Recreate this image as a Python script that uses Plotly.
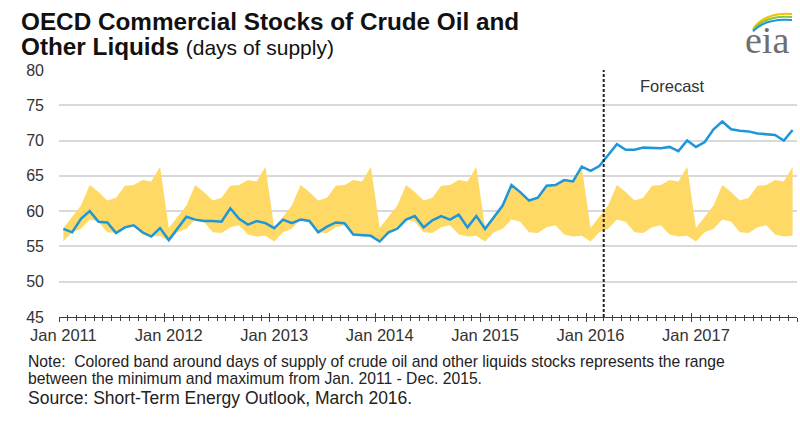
import plotly.graph_objects as go

# ---------------- data ----------------
months = [f"{y}-{m:02d}" for y in range(2011, 2018) for m in range(1, 13)]

stocks = [
    57.5, 57.0, 58.9, 60.0, 58.5, 58.4, 56.9, 57.7, 58.0, 57.0, 56.4, 57.6,   # 2011
    55.9, 57.5, 59.2, 58.8, 58.6, 58.6, 58.5, 60.4, 58.9, 58.1, 58.6, 58.3,   # 2012
    57.6, 58.8, 58.3, 58.8, 58.6, 57.0, 57.8, 58.4, 58.3, 56.7, 56.6, 56.5,   # 2013
    55.7, 57.0, 57.5, 58.8, 59.3, 57.7, 58.7, 59.3, 58.8, 59.5, 57.7, 59.3,   # 2014
    57.5, 59.2, 60.8, 63.7, 62.7, 61.5, 61.9, 63.6, 63.7, 64.4, 64.2, 66.3,   # 2015
    65.7, 66.4, 67.9, 69.5, 68.7, 68.7, 69.0, 68.9, 68.9, 69.1, 68.5, 70.0,   # 2016
    69.1, 69.8, 71.6, 72.7, 71.6, 71.4, 71.3, 71.0, 70.9, 70.8, 70.0, 71.5,   # 2017
]

# range (min / max) by calendar month, Jan..Dec, 2011-2015
band_min = [55.7, 57.0, 57.5, 58.8, 58.5, 57.0, 56.9, 57.7, 58.0, 56.7, 56.4, 56.5]
band_max = [57.6, 59.2, 60.8, 63.7, 62.7, 61.5, 61.9, 63.6, 63.7, 64.4, 64.2, 66.3]

tick_labels = ["Jan 2011", "Jan 2012", "Jan 2013", "Jan 2014",
               "Jan 2015", "Jan 2016", "Jan 2017"]
forecast_start = "2016-03"

# ---------------- layout geometry ----------------
W_FIG, H_FIG = 800, 422
L, R, T, B = 59, 3, 70, 105
PW, PH = W_FIG - L - R, H_FIG - T - B


def px_x(px):
    return (px - L) / PW


def px_y(py):
    return (T + PH - py) / PH


idx = list(range(len(months)))
n_years = len(months) // 12
low = band_min * n_years
high = band_max * n_years
bounds = [i - 0.5 for i in range(0, len(months) + 1, 12)]
minor_bounds = [i - 0.5 for i in range(0, len(months) + 1)]
label_pos = [i for i in range(0, len(months), 12)]
fc = months.index(forecast_start) - 0.5
xr = [-0.5, len(months) - 0.5]

BAND = "#FFD966"
BLUE = "#1E96D8"
AX = "#404040"
TXT = "#333333"
FONT = "Liberation Sans, Arial, sans-serif"

fig = go.Figure()
fig.add_trace(go.Scatter(x=idx, y=low, mode="lines", line=dict(width=0, color=BAND),
                         hoverinfo="skip", showlegend=False))
fig.add_trace(go.Scatter(x=idx, y=high, mode="lines", line=dict(width=0, color=BAND),
                         fill="tonexty", fillcolor=BAND, hoverinfo="skip", showlegend=False))
fig.add_trace(go.Scatter(x=idx, y=stocks, mode="lines", line=dict(color=BLUE, width=2.5),
                         showlegend=False))
fig.add_trace(go.Scatter(x=[None], y=[None], xaxis="x2", showlegend=False, hoverinfo="skip"))
fig.add_trace(go.Scatter(x=[None], y=[None], xaxis="x3", showlegend=False, hoverinfo="skip"))

fig.update_layout(
    width=W_FIG, height=H_FIG,
    margin=dict(l=L, r=R, t=T, b=B),
    paper_bgcolor="white", plot_bgcolor="white",
    font=dict(family=FONT, color=TXT),
    xaxis=dict(
        range=xr, showgrid=False, zeroline=False,
        showline=True, linecolor=AX, linewidth=1,
        tickmode="array", tickvals=bounds, showticklabels=False,
        ticks="outside", ticklen=4, tickcolor=AX, tickwidth=1,
        minor=dict(tickmode="array", tickvals=minor_bounds, ticks="outside",
                   ticklen=3, tickcolor=AX, tickwidth=1, showgrid=False),
    ),
    xaxis2=dict(
        range=xr, overlaying="x", anchor="y", side="bottom",
        showgrid=False, zeroline=False, showline=False,
        tickmode="array", tickvals=bounds, showticklabels=False,
        ticks="inside", ticklen=4, tickcolor=AX, tickwidth=1,
        minor=dict(tickmode="array", tickvals=minor_bounds, ticks="inside",
                   ticklen=2, tickcolor=AX, tickwidth=1, showgrid=False),
    ),
    xaxis3=dict(
        range=xr, overlaying="x", anchor="y", side="bottom",
        showgrid=False, zeroline=False, showline=False,
        tickmode="array", tickvals=label_pos, ticktext=tick_labels,
        ticks="", tickfont=dict(size=16.5, color=TXT, family=FONT),
        ticklabelstandoff=6,
    ),
    yaxis=dict(
        range=[45, 80], dtick=5, tick0=45,
        showgrid=True, gridcolor="#D9D9D9", gridwidth=1.5,
        zeroline=False, showline=False, ticks="",
        tickfont=dict(size=16, color=TXT, family=FONT),
        ticklabelstandoff=14,
    ),
)

# forecast divider
fig.add_shape(type="line", xref="x", yref="paper", x0=fc, x1=fc, y0=0, y1=1,
              line=dict(color="#222222", width=2, dash="3px,2px"), layer="above")
fig.add_annotation(x=fc, xref="x", y=px_y(86), yref="paper", xanchor="left", yanchor="middle",
                   xshift=34, text="Forecast", showarrow=False,
                   font=dict(size=16.5, color=TXT, family=FONT))

# title
fig.add_annotation(x=px_x(20), y=px_y(22), xref="paper", yref="paper",
                   xanchor="left", yanchor="middle", showarrow=False, borderpad=0,
                   text="<b>OECD Commercial Stocks of Crude Oil and</b>",
                   font=dict(size=24.3, color="#111111", family=FONT))
fig.add_annotation(x=px_x(20), y=px_y(46.5), xref="paper", yref="paper",
                   xanchor="left", yanchor="middle", showarrow=False, borderpad=0,
                   text="<b>Other Liquids</b> <span style='font-size:21px'>(days of supply)</span>",
                   font=dict(size=24.3, color="#111111", family=FONT))

# notes
fig.add_annotation(x=px_x(26), y=px_y(361), xref="paper", yref="paper",
                   xanchor="left", yanchor="middle", showarrow=False,
                   text="Note:  Colored band around days of supply of crude oil and other liquids stocks represents the range",
                   font=dict(size=15.7, color="#222222", family=FONT))
fig.add_annotation(x=px_x(26), y=px_y(378.5), xref="paper", yref="paper",
                   xanchor="left", yanchor="middle", showarrow=False,
                   text="between the minimum and maximum from Jan. 2011 - Dec. 2015.",
                   font=dict(size=15.7, color="#222222", family=FONT))
fig.add_annotation(x=px_x(26), y=px_y(398), xref="paper", yref="paper",
                   xanchor="left", yanchor="middle", showarrow=False,
                   text="Source: Short-Term Energy Outlook, March 2016.",
                   font=dict(size=17.5, color="#222222", family=FONT))

# eia logo
fig.add_annotation(x=px_x(767), y=px_y(40), xref="paper", yref="paper",
                   xanchor="center", yanchor="middle", showarrow=False,
                   text="eia", font=dict(size=38, color="#6d6e71",
                                         family="Liberation Serif, Times New Roman, serif"))
for col, dy in (("#F2C300", 0), ("#8DC63F", 3), ("#1E96D8", 6)):
    x0, y0 = px_x(753), px_y(29 + dy * 0.4)
    xc, yc = px_x(765), px_y(12 + dy)
    x1, y1 = px_x(792), px_y(14 + dy)
    fig.add_shape(type="path", xref="paper", yref="paper",
                  path=f"M {x0},{y0} Q {xc},{yc} {x1},{y1}",
                  line=dict(color=col, width=2))

fig.write_html("out.html",
               config={"displayModeBar": False},
               post_script="document.body.style.margin='0';document.body.style.padding='0';")
